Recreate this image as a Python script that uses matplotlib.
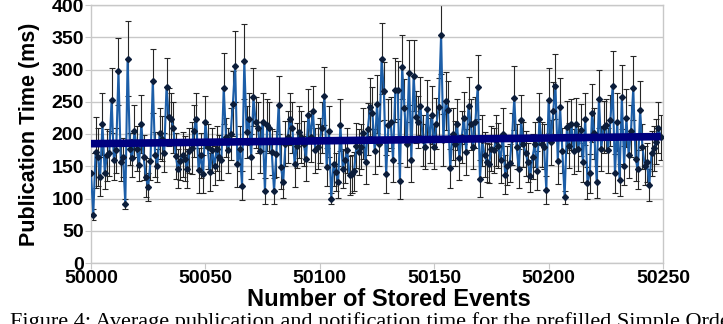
import numpy as np
import matplotlib
matplotlib.use("Agg")
import matplotlib.pyplot as plt

# publication times (ms) for stored events 50000..50249, read in five segments
seg1 = [140, 75, 172, 164, 134, 215, 140, 167, 170, 252, 159, 175, 297, 157, 164, 91, 317, 177, 163, 205,
        177, 152, 216, 164, 133, 118, 158, 282, 168, 151, 201, 193, 171, 273, 227, 223, 210, 166, 146, 158,
        168, 162, 146, 174, 178, 205, 223, 144, 167, 138, 219, 180]
seg2 = [141, 175, 151, 177, 164, 159, 271, 195, 175, 200, 247, 305, 153, 177, 120, 313, 203, 223, 165, 257,
        218, 210, 174, 219, 112, 214, 210, 172, 112, 169, 245, 149, 126, 185, 195, 223, 210, 153, 182, 203,
        195, 185, 162, 230, 196, 235, 175, 180, 190, 210, 259]
seg3 = [149, 204, 100, 154, 141, 126, 214, 146, 159, 175, 136, 138, 142, 182, 172, 180, 201, 157, 208, 242,
        233, 173, 247, 185, 317, 267, 138, 214, 218, 160, 268, 268, 127, 304, 240, 184, 295, 160, 290, 226,
        219, 244, 190, 180, 238, 190, 230, 180, 216, 242, 353]
seg4 = [191, 251, 237, 147, 200, 185, 215, 163, 195, 225, 172, 244, 215, 180, 218, 273, 131, 190, 168, 156,
        154, 177, 175, 190, 182, 159, 200, 137, 151, 155, 192, 256, 180, 146, 221, 184, 170, 156, 135, 165,
        184, 143, 223, 184, 180, 113, 252, 187, 235, 274, 158, 242, 174, 102]
seg5 = [211, 182, 215, 173, 216, 177, 206, 156, 223, 124, 139, 233, 201, 126, 255, 177, 211, 214, 175, 221,
        274, 139, 218, 129, 257, 151, 225, 167, 205, 271, 162, 145, 237, 180, 151, 156, 121, 170, 178, 188,
        210, 195]

err1 = [30, 8, 55, 45, 30, 48, 25, 40, 35, 50, 30, 35, 52, 30, 30, 8, 58, 25, 30, 40,
        35, 25, 45, 35, 30, 22, 30, 50, 35, 25, 40, 35, 30, 45, 45, 40, 40, 35, 30, 30,
        35, 35, 30, 35, 40, 40, 40, 35, 35, 30, 40, 35]
err2 = [30, 35, 30, 35, 35, 30, 55, 30, 35, 40, 50, 55, 35, 35, 22, 58, 40, 40, 35, 45,
        40, 40, 35, 45, 20, 40, 40, 35, 20, 35, 45, 35, 25, 35, 40, 40, 40, 35, 35, 40,
        40, 35, 35, 40, 40, 40, 35, 35, 35, 40, 45]
err3 = [30, 40, 8, 35, 30, 25, 40, 30, 35, 35, 30, 30, 30, 35, 35, 35, 40, 35, 40, 45,
        40, 35, 45, 35, 55, 45, 30, 40, 40, 35, 50, 45, 28, 50, 45, 35, 50, 35, 55, 40,
        40, 45, 40, 35, 45, 35, 45, 35, 40, 45, 60]
err4 = [40, 45, 45, 30, 40, 35, 40, 35, 40, 40, 35, 45, 40, 35, 40, 50, 28, 40, 35, 30,
        30, 35, 35, 40, 35, 35, 40, 30, 30, 30, 40, 50, 35, 30, 40, 35, 35, 30, 25, 35,
        35, 30, 40, 35, 35, 22, 50, 35, 45, 50, 35, 45, 35, 10]
err5 = [40, 35, 40, 35, 40, 35, 40, 30, 40, 25, 30, 45, 40, 25, 45, 35, 40, 40, 35, 40,
        55, 30, 45, 25, 50, 30, 45, 35, 40, 50, 35, 30, 45, 35, 30, 30, 25, 35, 35, 35,
        40, 35]

first_event = 50000
trend_start = 185
trend_end = 196

x_ticks = [50000, 50050, 50100, 50150, 50200, 50250]
y_ticks = [0, 50, 100, 150, 200, 250, 300, 350, 400]

values = np.array(seg1 + seg2 + seg3 + seg4 + seg5, dtype=float)
errors = np.array(err1 + err2 + err3 + err4 + err5, dtype=float)
events = first_event + np.arange(len(values))

fig = plt.figure(figsize=(7.23, 3.24), dpi=100)
ax = fig.add_axes([91/723, 1-263/324, (663-91)/723, (263-5)/324])

ax.set_xlim(50000, 50250)
ax.set_ylim(0, 400)
ax.yaxis.grid(True, color="#c8c8c8", lw=1)
ax.set_axisbelow(True)
for s in ["left", "bottom", "right", "top"]:
    ax.spines[s].set_color("#c8c8c8")
    ax.spines[s].set_linewidth(1)

ax.errorbar(events, values, yerr=errors, fmt="none", ecolor="#262626", elinewidth=0.8,
            capsize=2.2, capthick=0.8, zorder=2)
ax.plot(events, values, color="#1c5ea8", lw=1.5, zorder=3)
ax.plot(events, values, ls="none", marker="D", ms=3.0, color="#0c1d3a", zorder=4)
ax.plot([events[0], events[-1]], [trend_start, trend_end], color="#00007f", lw=5.5,
        solid_capstyle="butt", zorder=5)

font = "Liberation Sans"
ax.set_xticks(x_ticks)
ax.set_yticks(y_ticks)
ax.set_xticklabels([str(v) for v in x_ticks], fontfamily=font, fontweight="bold", fontsize=14)
ax.set_yticklabels([str(v) for v in y_ticks], fontfamily=font, fontweight="bold", fontsize=14)
ax.tick_params(axis="both", length=4, color="#c8c8c8", pad=1)
ax.set_xlabel("Number of Stored Events", fontfamily=font, fontweight="bold", fontsize=17, va="top")
ax.xaxis.set_label_coords((389-91)/572, (263-288)/258)
ax.set_ylabel("Publication Time (ms)", fontfamily=font, fontweight="bold", fontsize=15.5, va="center")
ax.yaxis.set_label_coords((29-91)/572, 0.5)

fig.text(10/723, 1-312/324, "Figure 4: Average publication and notification time for the prefilled Simple Order Book",
         fontfamily="Liberation Serif", fontsize=16, va="top", ha="left")

fig.savefig("out.png", dpi=100)
